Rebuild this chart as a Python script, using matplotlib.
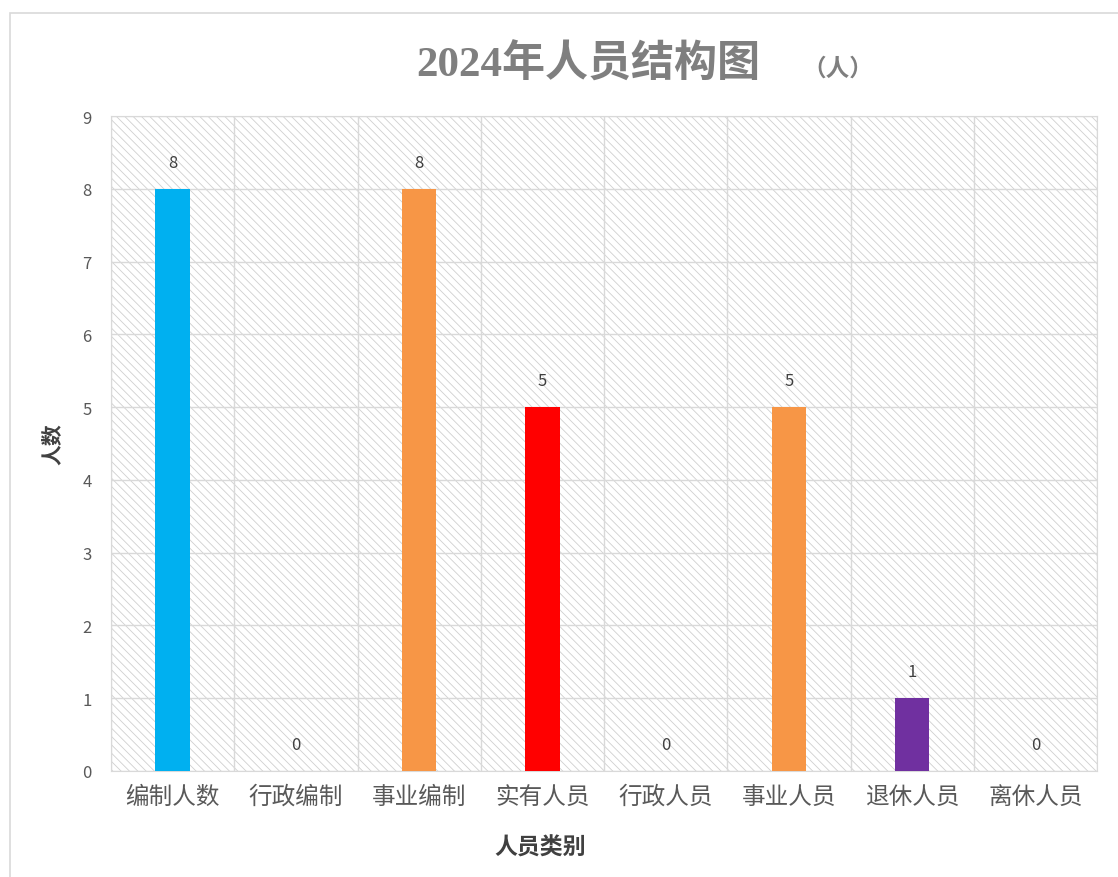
import matplotlib.pyplot as plt
from matplotlib import patches
import numpy as np

plt.rcParams['font.family'] = ['Noto Sans CJK SC', 'DejaVu Sans']
plt.rcParams['hatch.linewidth'] = 0.6
plt.rcParams['hatch.color'] = '#d0d0d0'

categories = ['编制人数', '行政编制', '事业编制', '实有人员', '行政人员', '事业人员', '退休人员', '离休人员']
counts = [8, 0, 8, 5, 0, 5, 1, 0]
bar_colors = ['#00B0F0', '#F79646', '#F79646', '#FF0000', '#F79646', '#F79646', '#7030A0', '#F79646']

fig = plt.figure(figsize=(11.18, 8.78), dpi=100)
# outer chart frame
fig.patches.append(patches.Rectangle((10 / 1118, -0.01), 1.02, 1 - 14 / 878 + 0.01,
                                     transform=fig.transFigure, fill=False,
                                     edgecolor='#d9d9d9', linewidth=1.2))

ax = fig.add_axes([111 / 1118, 106 / 878, 986 / 1118, 655 / 878])
x = np.arange(len(categories))

# hatched plot background
ax.add_patch(patches.Rectangle((0, 0), 1, 1, transform=ax.transAxes, facecolor='white',
                               edgecolor='#d0d0d0', hatch='\\\\\\\\', linewidth=0, zorder=0))

ax.bar(x, counts, width=0.28, color=bar_colors, zorder=3)

for xi, v in zip(x, counts):
    ax.annotate(str(v), (xi, v), xytext=(0, 13), textcoords='offset points',
                ha='center', va='bottom', fontsize=12, color='#404040', zorder=4)

ax.set_xlim(-0.5, len(categories) - 0.5)
ax.set_ylim(0, 9)
ax.set_yticks(range(10))
ax.set_xticks(x)
ax.set_xticklabels(categories, fontsize=17, color='#595959')
ax.tick_params(axis='y', labelsize=12, labelcolor='#595959', length=0, pad=14)
ax.tick_params(axis='x', length=0, pad=10)

ax.set_xticks(np.arange(-0.5, len(categories)), minor=True)
ax.tick_params(axis='x', which='minor', length=0)
ax.grid(axis='y', which='major', color='#d9d9d9', linewidth=1, zorder=1)
ax.grid(axis='x', which='minor', color='#d9d9d9', linewidth=1, zorder=1)
ax.set_axisbelow(True)
for s in ax.spines.values():
    s.set_color('#d9d9d9')

ax.set_ylabel('人数', fontsize=15, fontweight='bold', color='#404040', labelpad=14)
ax.set_xlabel('人员类别', fontsize=16.5, fontweight='bold', color='#404040')
ax.xaxis.set_label_coords(0.435, -0.098)

fig.text(0.5265, 0.926, '2024年人员结构图', ha='center', va='center', fontsize=31,
         fontweight='bold', color='#7f7f7f', family=['Liberation Serif', 'Noto Sans CJK SC'])
fig.text(0.749, 0.922, '（人）', ha='center', va='center', fontsize=17,
         fontweight='bold', color='#7f7f7f')

fig.savefig('out.png', dpi=100)
